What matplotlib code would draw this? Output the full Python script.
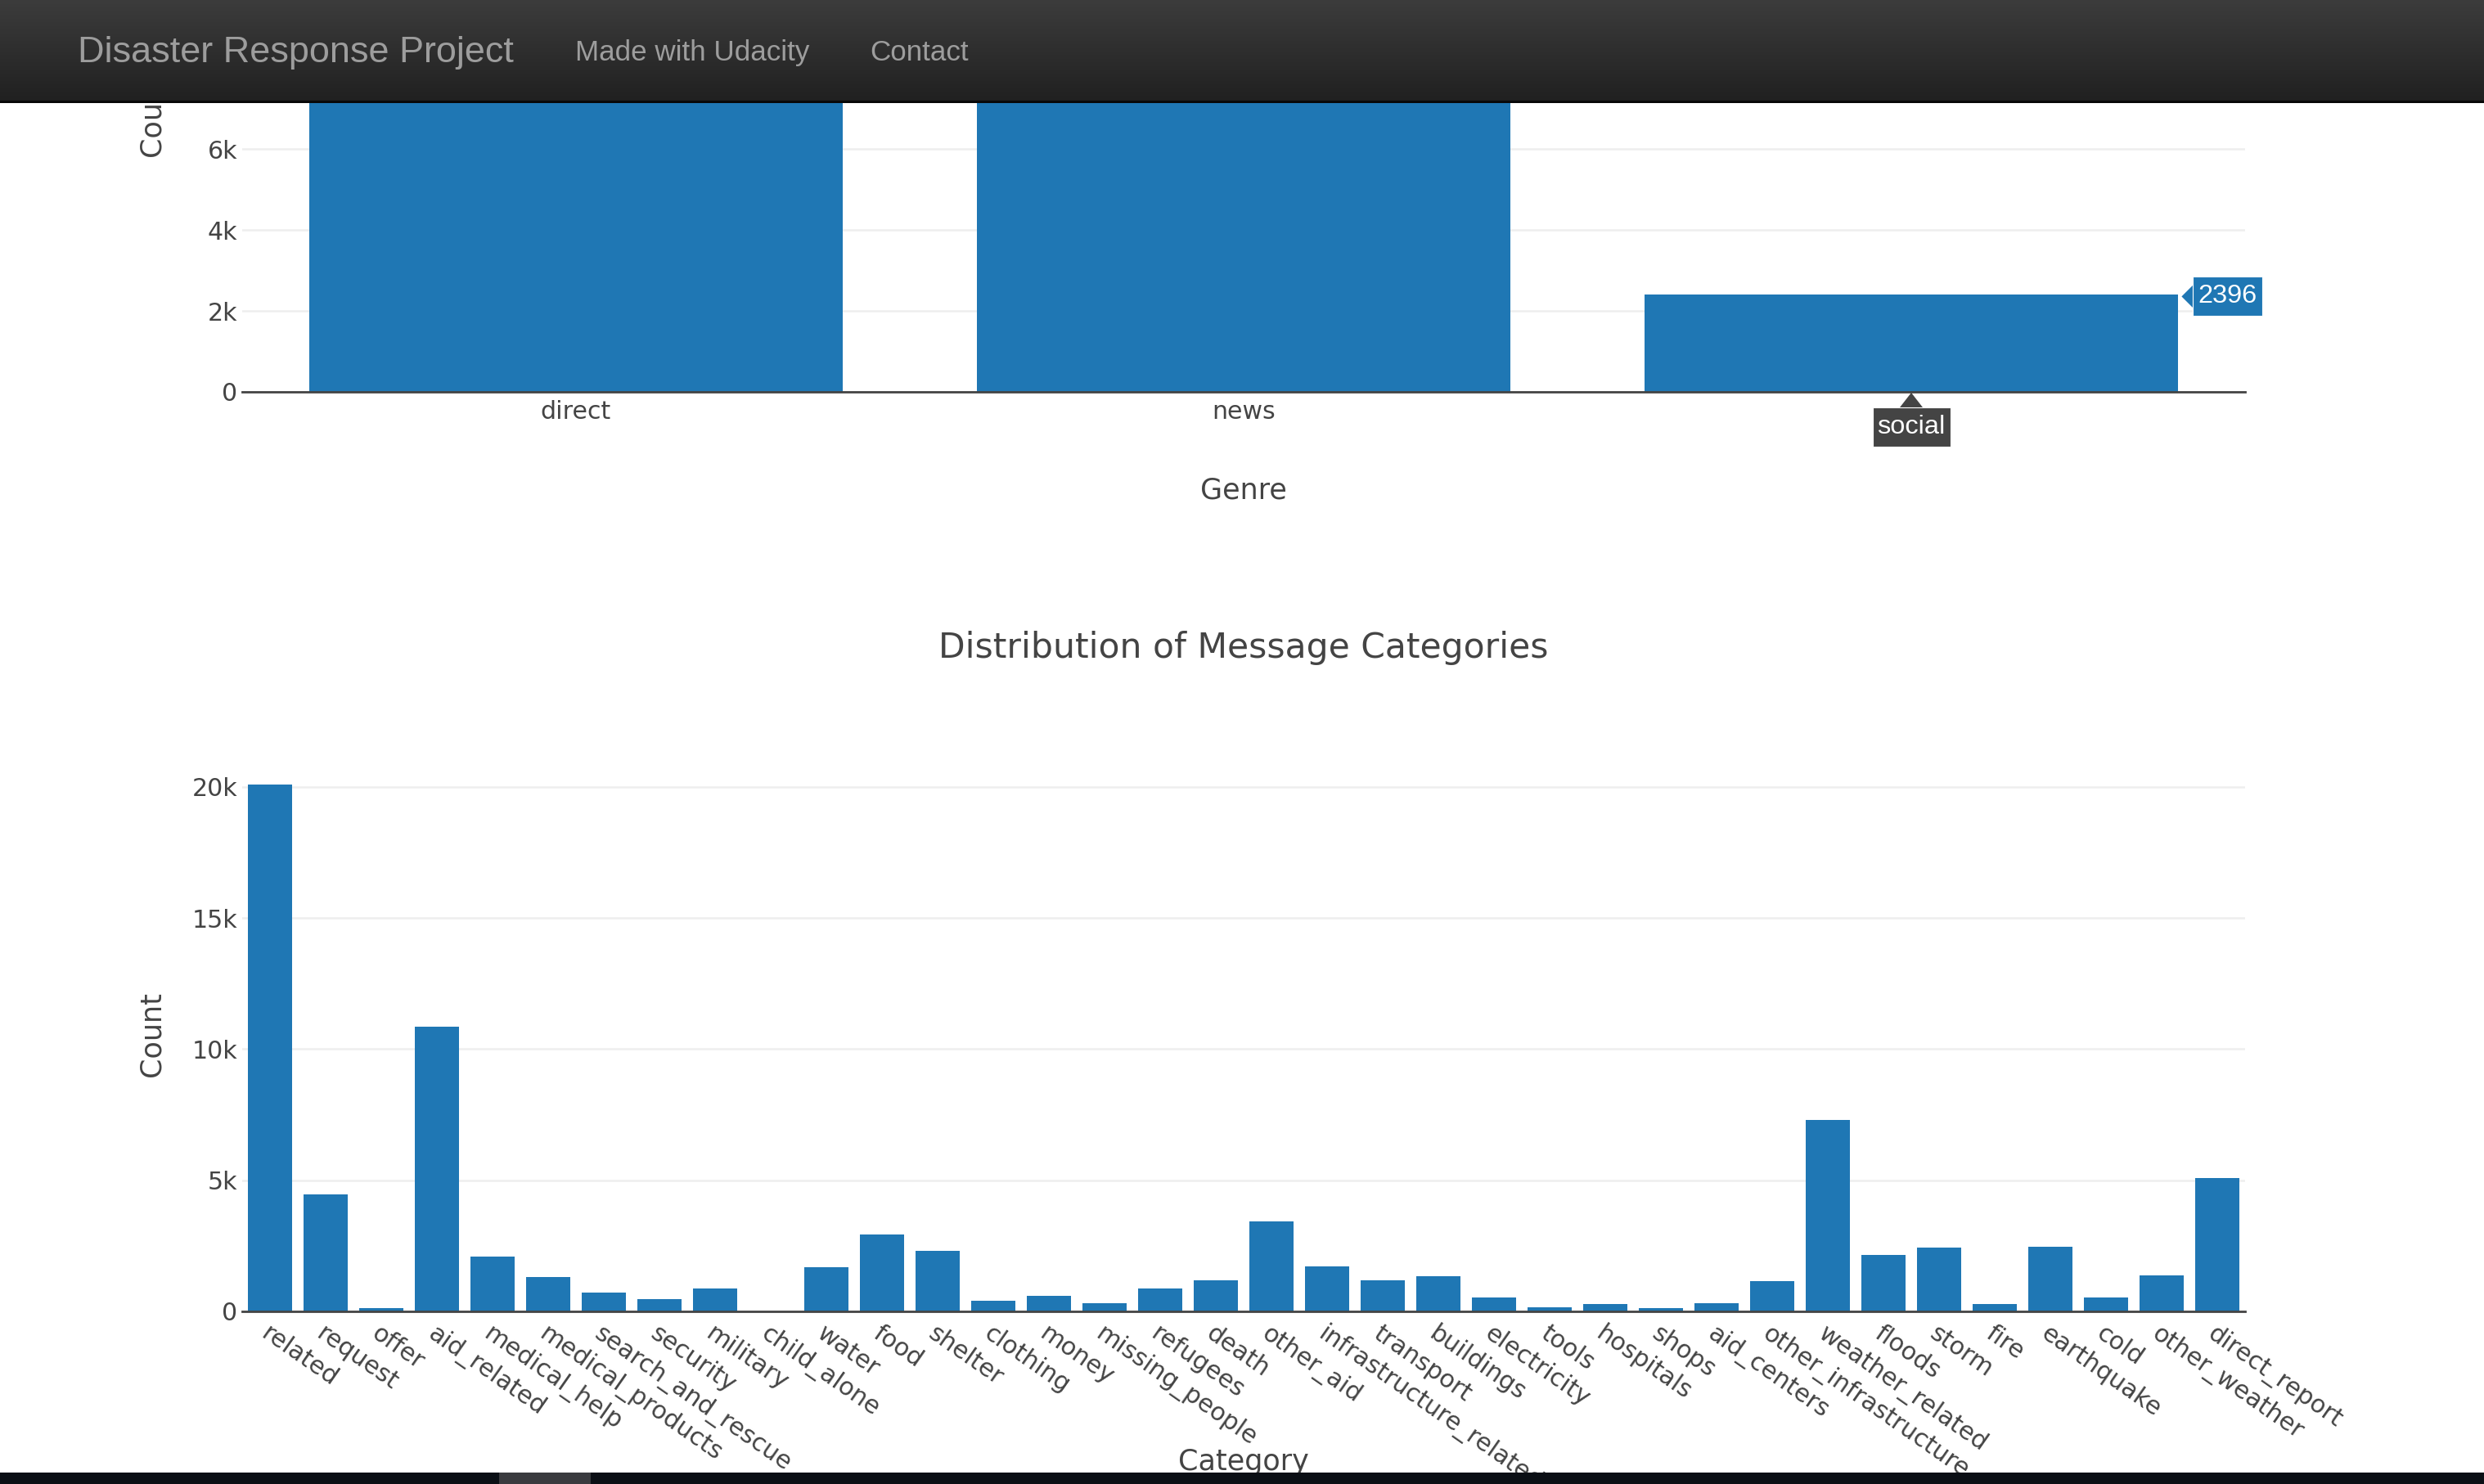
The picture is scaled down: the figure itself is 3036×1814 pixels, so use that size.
import numpy as np
import matplotlib.pyplot as plt
from matplotlib.colors import LinearSegmentedColormap
from matplotlib.patches import Polygon, Rectangle
from matplotlib.transforms import IdentityTransform

plt.rcParams['font.family'] = ['DejaVu Sans']

# data
genres = ['direct', 'news', 'social']
genre_counts = [10766, 13054, 2396]

categories = ['related', 'request', 'offer', 'aid_related', 'medical_help',
              'medical_products', 'search_and_rescue', 'security', 'military',
              'child_alone', 'water', 'food', 'shelter', 'clothing', 'money',
              'missing_people', 'refugees', 'death', 'other_aid',
              'infrastructure_related', 'transport', 'buildings', 'electricity',
              'tools', 'hospitals', 'shops', 'aid_centers',
              'other_infrastructure', 'weather_related', 'floods', 'storm',
              'fire', 'earthquake', 'cold', 'other_weather', 'direct_report']
category_counts = [20094, 4474, 118, 10860, 2084, 1313, 724, 471, 860, 0,
                   1672, 2923, 2314, 405, 604, 298, 875, 1194, 3446, 1705,
                   1201, 1333, 532, 159, 283, 120, 309, 1151, 7297, 2155,
                   2443, 282, 2455, 530, 1376, 5075]

W, H = 3036, 1814
BAR = '#1f77b4'
TXT = '#444444'


def px_box(left, top, width, height):
    return [left / W, 1 - (top + height) / H, width / W, height / H]


fig = plt.figure(figsize=(W / 100, H / 100), dpi=100)
fig.patch.set_facecolor('white')

ax1 = fig.add_axes(px_box(296, -201, 2448, 680))
ax2 = fig.add_axes(px_box(296, 925, 2448, 678))


def bar_chart(ax, labels, values, step):
    x = np.arange(len(labels))
    ax.bar(x, values, width=0.8, color=BAR, zorder=2)
    ax.set_xlim(-0.5, len(labels) - 0.5)
    ax.set_ylim(0, max(values) * 1.0526)
    ax.set_yticks(np.arange(0, max(values) + 1, step))
    ax.yaxis.set_major_formatter(lambda v, p: '0' if v == 0 else f'{v / 1000:g}k')
    ax.grid(axis='y', color='#eeeeee', lw=1.8)
    ax.set_axisbelow(True)
    ax.axhline(0, color=TXT, lw=2, zorder=3, clip_on=False)
    for s in ax.spines.values():
        s.set_visible(False)
    ax.tick_params(length=0, labelsize=21.6, colors=TXT)
    ax.tick_params(axis='y', pad=4)
    ax.text(-0.045, 0.5, 'Count', rotation=90, ha='center', va='center',
            fontsize=25.2, color=TXT, transform=ax.transAxes)
    return x


x1 = bar_chart(ax1, genres, genre_counts, 2000)
ax1.set_xticks(x1, genres)
ax1.tick_params(axis='x', pad=7)
ax1.get_xticklabels()[2].set_visible(False)  # covered by the hover label
ax1.text(0.5, -0.177, 'Genre', ha='center', va='center', fontsize=25.2,
         color=TXT, transform=ax1.transAxes)

x2 = bar_chart(ax2, categories, category_counts, 5000)
ax2.set_xticks(x2, categories, rotation=-35, ha='left', va='top',
               rotation_mode='anchor')
ax2.tick_params(axis='x', pad=9)
ax2.text(0.5, -0.271, 'Category', ha='center', va='center', fontsize=25.2,
         color=TXT, transform=ax2.transAxes)
ax2.text(0.5, 1.196, 'Distribution of Message Categories', ha='center',
         va='center', fontsize=30.6, color=TXT, transform=ax2.transAxes)

# hover labels on the social bar
ident = IdentityTransform()
hover_font = dict(family=['Liberation Sans', 'DejaVu Sans'], fontsize=23.4,
                  color='white', ha='center', va='center', zorder=6)

bx, by = ax1.transData.transform((x1[2] + 0.4, genre_counts[2]))
by -= 2
fig.add_artist(Polygon([(bx + 4, by), (bx + 19, by + 15), (bx + 19, by - 15)],
                       closed=True, fc=BAR, ec='none', transform=ident, zorder=5))
fig.add_artist(Rectangle((bx + 18, by - 24), 85, 48, fc=BAR, ec='white', lw=0.8,
                         transform=ident, zorder=5))
fig.text(bx + 18 + 42.5, by, str(genre_counts[2]), transform=ident, **hover_font)

sx, sy = ax1.transData.transform((x1[2], 0))
fig.add_artist(Polygon([(sx, sy - 1), (sx - 14, sy - 19), (sx + 14, sy - 19)],
                       closed=True, fc=TXT, ec='none', transform=ident, zorder=5))
fig.add_artist(Rectangle((sx - 47, sy - 67), 95, 48, fc=TXT, ec='white', lw=0.8,
                         transform=ident, zorder=5))
fig.text(sx, sy - 43, genres[2], transform=ident, **hover_font)

# navbar
nav = fig.add_axes(px_box(0, 0, W, 126))
nav.set_zorder(10)
grad = LinearSegmentedColormap.from_list('nav', ['#202020', '#3c3c3c'])
nav.imshow(np.linspace(0, 1, 256).reshape(-1, 1), cmap=grad, origin='lower',
           aspect='auto', extent=[0, 1, 0, 1])
nav.add_patch(Rectangle((0, 0), 1, 3 / 126, fc='#080808', ec='none'))
nav.set_xlim(0, 1)
nav.set_ylim(0, 1)
nav.axis('off')
nav_font = dict(family=['Liberation Sans', 'DejaVu Sans'], color='#9d9d9d',
                va='center', ha='left')
nav.text(95 / W, 0.49, 'Disaster Response Project', fontsize=32.4, **nav_font)
nav.text(703 / W, 0.49, 'Made with Udacity', fontsize=25.2, **nav_font)
nav.text(1063 / W, 0.49, 'Contact', fontsize=25.2, **nav_font)

# bottom scrollbar strip
strip = fig.add_axes(px_box(0, 1800, W, 14))
strip.set_zorder(10)
strip.set_facecolor('#0b0f15')
strip.add_patch(Rectangle((610 / W, 0), 112 / W, 1, fc='#3a3b3f', ec='none'))
strip.set_xlim(0, 1)
strip.set_ylim(0, 1)
strip.set_xticks([])
strip.set_yticks([])
for s in strip.spines.values():
    s.set_visible(False)

fig.savefig('out.png', dpi=100)
